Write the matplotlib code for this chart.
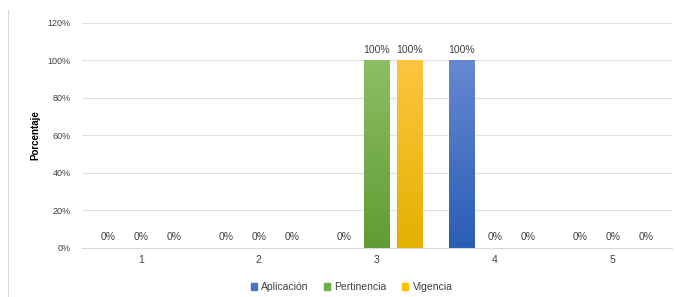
import numpy as np
import matplotlib.pyplot as plt
from matplotlib.lines import Line2D
from matplotlib.colors import LinearSegmentedColormap

categories = ["1", "2", "3", "4", "5"]
series_names = ["Aplicación", "Pertinencia", "Vigencia"]
aplicacion = [0, 0, 0, 1.0, 0]
pertinencia = [0, 0, 1.0, 0, 0]
vigencia = [0, 0, 1.0, 0, 0]
yticks = [0, 0.2, 0.4, 0.6, 0.8, 1.0, 1.2]

# top / bottom shades for the gradient fill
shades = [("#6688D0", "#2B5DB6"), ("#8DBE64", "#5F9C33"), ("#FFC540", "#E4B000")]
legend_colors = ["#4472C4", "#70AD47", "#FFC000"]

plt.rcParams['font.family'] = ['Liberation Sans', 'DejaVu Sans']

fig = plt.figure(figsize=(6.76, 2.97), dpi=100)
ax = fig.add_axes([0.121, 0.165, 0.873, 0.758])

x = np.arange(len(categories))
width = 0.22
offsets = [-0.28, 0.0, 0.28]
data = [aplicacion, pertinencia, vigencia]

for vals, off, (top, bot), col, name in zip(data, offsets, shades, legend_colors, series_names):
    bars = ax.bar(x + off, vals, width, color=col, label=name, zorder=2)
    cmap = LinearSegmentedColormap.from_list("g", [bot, top])
    for b, v in zip(bars, vals):
        if v > 0:
            b.set_facecolor("none")
            x0, w = b.get_x(), b.get_width()
            grad = np.linspace(0, 1, 100).reshape(-1, 1)
            im = ax.imshow(grad, cmap=cmap, origin="lower", aspect="auto",
                           extent=[x0, x0 + w, 0, v], zorder=2)
            im.set_clip_path(b)
        ax.annotate(f"{v*100:.0f}%", (b.get_x() + b.get_width() / 2, v),
                    xytext=(0, 4), textcoords="offset points",
                    ha="center", va="bottom", fontsize=7.5, color="#404040")

ax.set_xlim(-0.5, len(categories) - 0.5)
ax.set_ylim(0, 1.2)
ax.set_xticks(x)
ax.set_xticklabels(categories, fontsize=7.5, color="#404040")
ax.set_yticks(yticks)
ax.set_yticklabels([f"{t*100:.0f}%" for t in yticks], fontsize=6.5, color="#404040")
ax.tick_params(axis="x", length=0, pad=5)
ax.tick_params(axis="y", length=0, pad=8)
ax.grid(axis="y", color="#E0E0E0", linewidth=0.8, zorder=0)
ax.set_axisbelow(True)
for s in ["top", "right", "left"]:
    ax.spines[s].set_visible(False)
ax.spines["bottom"].set_color("#D9D9D9")

ax.set_ylabel("Porcentaje", fontsize=7, fontweight="bold",
              family=["Liberation Sans Narrow", "Liberation Sans"])
ax.yaxis.set_label_coords(-0.071, 0.5)

handles = [plt.Rectangle((0, 0), 1, 1, color=c) for c in legend_colors]
fig.legend(handles, series_names, loc="lower center", bbox_to_anchor=(0.52, -0.015),
           ncol=3, frameon=False, fontsize=7.5, handlelength=0.6, handleheight=0.6,
           columnspacing=1.5, handletextpad=0.4, labelcolor="#404040")

fig.add_artist(Line2D([0.012, 0.012], [0, 0.965], transform=fig.transFigure,
                      color="#D9D9D9", linewidth=0.8))

fig.savefig("out.png", dpi=100)
